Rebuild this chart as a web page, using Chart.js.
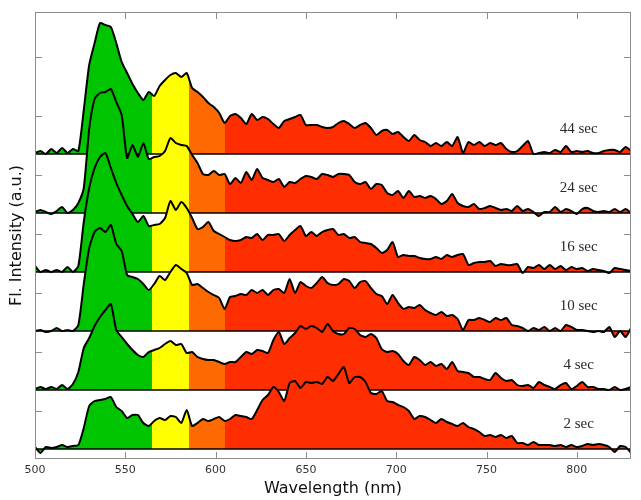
<!DOCTYPE html>
<html>
<head>
<meta charset="utf-8">
<script src="https://cdn.jsdelivr.net/npm/chart.js@4.4.0/dist/chart.umd.min.js"></script>
<style>
  html, body { margin: 0; padding: 0; background: #fff; }
</style>
</head>
<body>
<canvas id="myChart" width="641" height="500"></canvas>
<script>
// wavelength grid (nm)
var wavelength = [
  500,503,506,509,512,515,518,521,524,527,
  530,533,536,539,542,545,548,551,554,557,
  560,563,566,569,572,575,578,581,584,587,
  590,593,596,599,602,605,608,611,614,617,
  620,623,626,629,632,635,638,641,644,647,
  650,653,656,659,662,665,668,671,674,677,
  680,683,686,689,692,695,698,701,704,707,
  710,713,716,719,722,725,728,731,734,737,
  740,743,746,749,752,755,758,761,764,767,
  770,773,776,779,782,785,788,791,794,797,
  800,803,806,809,812,815,818,821,824,827,
  830
];

// intensities (a.u.) above each trace's own baseline
var sec2 = [
  2,-4,2,1,2,4,2,3,4,21,
  43,48,49,50,52,42,38,31,34,34,
  26,23,28,31,29,33,32,26,39,23,
  26,30,28,30,32,28,30,34,33,32,
  30,39,49,54,62,57,48,66,68,61,
  67,66,67,65,72,68,75,82,66,72,
  72,67,56,55,58,48,47,44,42,38,
  30,33,32,29,26,30,27,25,23,26,
  22,20,17,13,14,12,14,11,13,6,
  6,4,7,4,4,4,3,4,2,4,
  2,3,5,4,5,4,2,-3,3,2,
  -4
];
var sec4 = [
  1,3,1,3,1,5,1,6,18,42,
  52,64,73,80,86,60,53,46,40,35,
  33,38,40,42,46,49,45,46,37,38,
  33,31,30,30,28,26,28,28,33,38,
  36,40,39,37,50,58,46,52,57,64,
  61,64,62,58,66,59,56,56,62,61,
  55,53,56,52,41,38,39,36,29,25,
  33,30,25,28,24,26,21,28,19,18,
  17,13,13,11,10,17,12,9,10,5,
  4,5,2,8,5,3,1,5,7,1,
  4,8,3,3,1,1,0,3,0,1,
  3
];
var sec10 = [
  0,1,-1,0,3,0,1,0,6,47,
  83,99,103,99,106,87,80,56,54,52,
  47,41,47,55,51,59,66,62,58,46,
  47,43,39,36,33,22,34,35,37,36,
  41,38,41,36,41,42,38,52,38,49,
  45,43,48,54,48,46,47,52,50,43,
  49,50,43,37,35,27,36,28,22,24,
  23,26,21,18,16,19,15,16,12,1,
  11,11,13,11,9,13,11,13,6,5,
  3,0,3,1,4,0,3,0,6,4,
  1,1,0,-1,0,-1,4,-6,0,-6,
  3
];
var sec16 = [
  6,0,2,0,2,0,5,0,6,50,
  84,104,115,119,104,89,77,66,58,50,
  56,46,47,48,54,71,62,70,64,54,
  43,45,50,41,38,35,32,31,32,35,
  34,38,32,37,37,38,31,37,42,46,
  36,40,36,40,42,43,37,38,34,35,
  30,29,28,24,19,22,30,15,17,16,
  16,14,13,13,15,13,17,15,17,18,
  7,9,10,10,11,6,8,7,7,8,
  -1,5,4,7,3,7,3,6,2,5,
  3,4,1,3,2,1,-1,4,3,2,
  1
];
var sec24 = [
  1,3,1,-1,2,6,0,3,10,25,
  84,114,120,121,124,111,98,55,68,56,
  70,54,56,57,62,75,70,68,67,58,
  50,39,38,42,38,39,29,35,30,41,
  33,44,35,33,31,34,26,31,30,34,
  37,36,34,39,38,36,39,39,38,31,
  29,31,24,29,28,20,18,22,15,22,
  16,17,15,17,14,9,12,19,10,7,
  6,9,4,5,7,5,3,4,2,7,
  2,4,1,-3,1,1,6,1,4,2,
  -1,4,5,2,1,2,1,4,1,4,
  0
];
var sec44 = [
  1,3,0,5,1,6,1,5,3,44,
  89,111,131,129,127,111,92,81,70,61,
  54,62,58,68,74,79,81,77,81,66,
  62,57,51,47,41,31,38,40,36,30,
  40,34,37,35,30,26,33,35,37,39,
  29,29,29,27,26,27,31,33,30,26,
  29,31,26,19,23,24,20,22,17,13,
  19,14,12,8,11,8,12,8,17,1,
  12,9,12,8,11,9,11,5,2,3,
  8,13,0,1,2,1,4,2,8,2,
  3,2,3,1,1,3,4,4,2,7,
  3
];

var series = [sec2, sec4, sec10, sec16, sec24, sec44];
var times = ['2 sec', '4 sec', '10 sec', '16 sec', '24 sec', '44 sec'];
var offsets = [0, 59, 118, 177, 236, 295];

var xTicks = [500, 550, 600, 650, 700, 750, 800];
var yTicks = [38, 97, 156, 215, 274, 333, 392];

// colour bands (nm)
var bandEdges = [565, 585, 605];
var bandColors = ['#00c400', '#ffff00', '#ff6a00', '#ff2e00'];

function bandFill(context) {
    var chart = context.chart;
    var area = chart.chartArea;
    if (!area) return bandColors[3];
    var sx = chart.scales.x;
    var w = area.right - area.left;
    var g = chart.ctx.createLinearGradient(area.left, 0, area.right, 0);
    g.addColorStop(0, bandColors[0]);
    bandEdges.forEach(function(nm, k) {
        var p = (sx.getPixelForValue(nm) - area.left) / w;
        g.addColorStop(p, bandColors[k]);
        g.addColorStop(p, bandColors[k + 1]);
    });
    g.addColorStop(1, bandColors[3]);
    return g;
}

var datasets = [];
series.forEach(function(vals, i) {
    datasets.push({
        label: times[i],
        data: vals.map(function(v, j) { return { x: wavelength[j], y: v + offsets[i] }; }),
        borderColor: '#000',
        borderWidth: 2,
        pointRadius: 0,
        tension: 0.2,
        fill: { value: offsets[i] },
        backgroundColor: bandFill,
        order: 2 * i + 1
    });
    // baseline of this trace
    datasets.push({
        label: times[i] + ' base',
        data: [{ x: 500, y: offsets[i] }, { x: 830, y: offsets[i] }],
        borderColor: '#000',
        borderWidth: 1.5,
        pointRadius: 0,
        fill: false,
        order: 2 * i
    });
});

var frame = {
    id: 'frame',
    afterDatasetsDraw: function(chart) {
        var c = chart.ctx, a = chart.chartArea;
        var sx = chart.scales.x, sy = chart.scales.y;
        c.save();
        c.strokeStyle = '#8c8c8c';
        c.lineWidth = 1;
        c.strokeRect(a.left + 0.5, a.top + 0.5, a.right - a.left - 1, a.bottom - a.top - 1);
        c.beginPath();
        xTicks.forEach(function(v) {
            var px = Math.round(sx.getPixelForValue(v)) + 0.5;
            c.moveTo(px, a.top); c.lineTo(px, a.top + 7);
            c.moveTo(px, a.bottom); c.lineTo(px, a.bottom - 7);
        });
        yTicks.forEach(function(v) {
            var py = Math.round(sy.getPixelForValue(v)) + 0.5;
            c.moveTo(a.left, py); c.lineTo(a.left + 7, py);
            c.moveTo(a.right, py); c.lineTo(a.right - 7, py);
        });
        c.stroke();
        // time labels
        c.fillStyle = '#2a2a2a';
        c.font = '15px "Liberation Serif"';
        c.textAlign = 'center';
        c.textBaseline = 'middle';
        times.forEach(function(t, i) {
            c.fillText(t, sx.getPixelForValue(801), sy.getPixelForValue(offsets[i] + 25));
        });
        c.restore();
    }
};

var ctx = document.getElementById('myChart').getContext('2d');
var myChart = new Chart(ctx, {
    type: 'line',
    data: { datasets: datasets },
    options: {
        responsive: false,
        animation: false,
        layout: { padding: { top: 12, right: 10, left: 0, bottom: 0 } },
        scales: {
            x: {
                type: 'linear',
                min: 500,
                max: 830,
                afterBuildTicks: function(scale) {
                    scale.ticks = xTicks.map(function(v) { return { value: v }; });
                },
                afterFit: function(scale) { scale.height = 41; },
                grid: { display: false, drawTicks: false },
                border: { display: false },
                ticks: {
                    padding: 5,
                    color: '#333',
                    font: { family: 'DejaVu Sans', size: 11 },
                    maxRotation: 0
                },
                title: {
                    display: true,
                    text: 'Wavelength (nm)',
                    color: '#111',
                    font: { family: 'DejaVu Sans', size: 16 },
                    padding: { top: 0, bottom: 2 }
                }
            },
            y: {
                type: 'linear',
                min: -10,
                max: 437,
                afterBuildTicks: function(scale) {
                    scale.ticks = yTicks.map(function(v) { return { value: v }; });
                },
                afterFit: function(scale) { scale.width = 35; },
                grid: { display: false, drawTicks: false },
                border: { display: false },
                ticks: { display: false },
                title: {
                    display: true,
                    text: 'Fl. Intensity (a.u.)',
                    color: '#111',
                    font: { family: 'DejaVu Sans', size: 16 },
                    padding: { top: 7, bottom: 0 }
                }
            }
        },
        plugins: {
            legend: { display: false },
            tooltip: { enabled: false },
            filler: { drawTime: 'beforeDatasetDraw' }
        }
    },
    plugins: [frame]
});
</script>
</body>
</html>
